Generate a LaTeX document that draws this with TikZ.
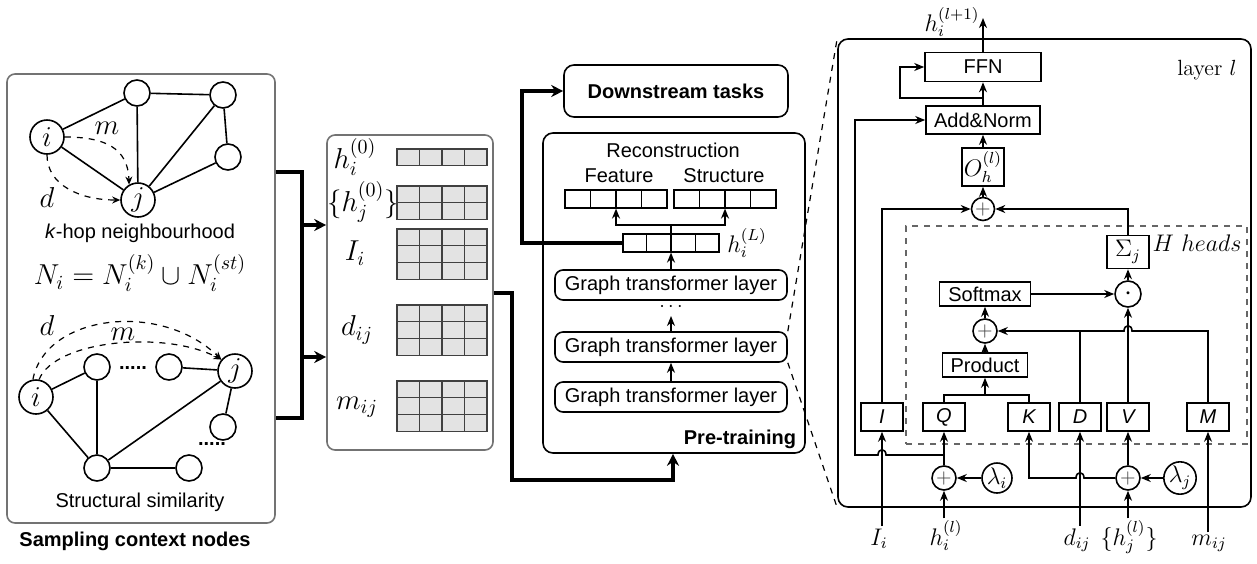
\documentclass[tikz,border=0pt]{standalone}
\usepackage{fontspec}
\setsansfont{Liberation Sans}
\usetikzlibrary{arrows.meta, positioning, calc}
\colorlet{PanelLine}{black!55}
\colorlet{CellFill}{black!11}
\colorlet{HeadLine}{black!60}

\begin{document}
\begin{tikzpicture}[
    x=0.5pt, y=-0.5pt,
    every node/.style={inner sep=1pt},
    txt/.style={font=\sffamily},
    bigmath/.style={font=\fontsize{14}{16}\selectfont},
    midmath/.style={font=\fontsize{12}{14}\selectfont},
    panel/.style={draw=PanelLine, rounded corners=4pt, thick},
    gnode/.style={circle, draw, thick, minimum size=13pt, inner sep=0pt},
    gmain/.style={gnode, minimum size=17pt, font=\fontsize{14}{16}\selectfont},
    gtl/.style={draw, rounded corners=4pt, thick, minimum width=116pt,
                minimum height=15pt, font=\sffamily},
    vect/.style={draw, semithick, minimum width=#1, minimum height=9pt},
    opbox/.style={draw, thick, font=\sffamily, minimum height=#1, inner sep=2pt},
    opbox/.default=12pt,
    inbox/.style={draw, thick, font=\sffamily\itshape, minimum width=21pt,
                  minimum height=14pt},
    opcirc/.style={circle, draw, thick, minimum size=#1, inner sep=0pt,
                   text=black!75},
    opcirc/.default=11.5pt,
    wire/.style={thick},
    arr/.style={-{Stealth[length=5pt, width=4pt]}, thick},
    dasharr/.style={-{Stealth[length=4pt, width=3.5pt]}, semithick, dashed},
    bigline/.style={line width=2pt},
    bigarr/.style={-{Stealth[length=6pt, width=6pt]}, line width=2pt},
    cell/.style={draw=black!75, fill=CellFill, semithick}
]
\useasboundingbox (0,0) rectangle (1257,563);

% Sampling context nodes
\node[panel, minimum width=134pt, minimum height=224.5pt] (samp) at (141,298.5) {};
\node[font=\sffamily\bfseries] (samptitle) at (135,541) {Sampling context nodes};

\node[gmain] (ki) at (47,137) {$i$};
\node[gnode] (ka) at (137,93) {};
\node[gnode] (kb) at (223,95) {};
\node[gnode] (kc) at (228,157) {};
\node[gmain] (kj) at (138,200) {$j$};
\foreach \a/\b in {ki/ka, ki/kj, ka/kb, ka/kj, kb/kj, kb/kc, kc/kj} {
    \draw[wire] (\a) -- (\b);
}
\draw[dasharr] (ki.east) .. controls (105,137) and (128,148) .. (kj.120);
\draw[dasharr] (ki.south) .. controls (47,185) and (80,200) .. (kj.west);
\node[bigmath] (km) at (107,128) {$m$};
\node[bigmath] (kd) at (47,197) {$d$};
\node[txt] (khop) at (140,233) {\textit{k}-hop neighbourhood};
\node[bigmath] (nset) at (140,273) {$N_i = N_i^{(k)} \cup N_i^{(st)}$};

\node[gmain] (si) at (36,397) {$i$};
\node[gnode] (sa) at (97,367) {};
\node[gnode] (sb) at (169,367) {};
\node[gmain] (sj) at (235,371) {$j$};
\node[gnode] (sc) at (223,427) {};
\node[gnode] (sd) at (97,468) {};
\node[gnode] (se) at (189,468) {};
\foreach \a/\b in {si/sa, si/sd, sa/sd, sb/sj, sj/sd, sj/sc, sd/se} {
    \draw[wire] (\a) -- (\b);
}
\node[font=\sffamily\bfseries] (sdotsa) at (133,368) {.....};
\node[font=\sffamily\bfseries] (sdotsb) at (212,444) {.....};
\draw[dasharr] (si.100) .. controls (45,315) and (160,300) .. (sj.140);
\draw[dasharr] (si.80) .. controls (55,340) and (165,330) .. (sj.140);
\node[bigmath] (sdl) at (47,325) {$d$};
\node[bigmath] (sml) at (123,334) {$m$};
\node[txt] (ssim) at (140,502) {Structural similarity};

% Feature matrices
\node[panel, minimum width=83pt, minimum height=157.5pt] (mat) at (410,292.5) {};
\node[bigmath] (mh) at (355,157) {$h_i^{(0)}$};
\node[bigmath] (mhj) at (363,202) {$\{h_j^{(0)}\}$};
\node[bigmath] (mi) at (355,253) {$I_i$};
\node[bigmath] (md) at (357,330) {$d_{ij}$};
\node[bigmath] (mm) at (357,407) {$m_{ij}$};
\foreach \t/\r in {149/1, 186/2, 229/3, 305/3, 381/3} {
    \foreach \c in {0,...,3} {
        \foreach \k in {1,...,\r} {
            \draw[cell] ({397+22.5*\c},{\t+16.7*(\k-1)}) rectangle ++(22.5,16.7);
        }
    }
}

% Pre-training
\node[draw, thick, rounded corners=5pt, minimum width=131pt, minimum height=160pt] (pre) at (674,293) {};
\node[font=\sffamily\bfseries] (pretitle) at (740,439) {Pre-training};
\node[draw, thick, rounded corners=5pt, minimum width=112pt, minimum height=26pt,
      font=\sffamily\bfseries] (down) at (676,91) {Downstream tasks};
\node[txt] (recon) at (673,150) {Reconstruction};
\node[txt] (featlbl) at (619,176) {Feature};
\node[txt] (struclbl) at (724,176) {Structure};
\node[vect=51pt] (feat) at (616,199) {};
\node[vect=51pt] (struc) at (725,199) {};
\node[vect=48pt] (hl) at (671,243) {};
\node[midmath] (hllbl) at (747,243) {$h_i^{(L)}$};
\foreach \v in {feat, struc, hl} {
    \foreach \f in {0.25, 0.5, 0.75} {
        \draw[semithick] ($(\v.north west)!\f!(\v.north east)$) -- ($(\v.south west)!\f!(\v.south east)$);
    }
}
\node[gtl] (gtla) at (671,285) {Graph transformer layer};
\node[gtl] (gtlb) at (671,347) {Graph transformer layer};
\node[gtl] (gtlc) at (671,397) {Graph transformer layer};
\node (gdots) at (671,307) {$\cdots$};
\coordinate (dotend) at (671,316);
\coordinate (brc) at (671,225);
\coordinate (upc) at (522,243);

% Layer l
\node[draw, thick, rounded corners=5pt, minimum width=206.5pt, minimum height=234pt] (layer) at (1044.5,273) {};
\node[font=\fontsize{11}{13}\selectfont] (layerlbl) at (1207,70) {layer $l$};
\node[draw=HeadLine, dashed, semithick, minimum width=170.5pt, minimum height=109pt] (heads) at (1076.5,335) {};
\node[font=\fontsize{11.5}{13}\selectfont] (headlbl) at (1197,243) {$H\ heads$};

\node[opbox=14.5pt, minimum width=58pt] (ffn) at (983,67) {FFN};
\node[opbox=14pt, minimum width=57pt] (addn) at (983,120) {Add\&Norm};
\node[opbox=19pt, minimum width=21pt, inner sep=1pt, font=\fontsize{12}{14}\selectfont] (oh) at (983,167) {$O_h^{(l)}$};
\node[opcirc] (plo) at (983,209) {$+$};
\node[opbox=16.5pt, minimum width=21pt, font=\fontsize{12}{14}\selectfont] (sig) at (1128,252) {$\Sigma_j$};
\node[opcirc=13pt, text=black] (dotp) at (1128,294) {\Large$\cdot$};
\node[opbox, minimum width=45.5pt] (soft) at (985,294) {Softmax};
\node[opcirc=12pt] (pla) at (985,331) {$+$};
\node[opbox, minimum width=42.5pt] (prod) at (985,365) {Product};
\node[inbox] (bi) at (882,417) {I};
\node[inbox] (bq) at (944,417) {Q};
\node[inbox] (bk) at (1029,417) {K};
\node[inbox] (bd) at (1080,417) {D};
\node[inbox] (bv) at (1128,417) {V};
\node[inbox] (bm) at (1208,417) {M};
\node[opcirc=12pt] (pli) at (944,478) {$+$};
\node[opcirc=15pt, text=black, font=\fontsize{12}{14}\selectfont] (lami) at (997,478) {$\lambda_i$};
\node[opcirc=12pt] (plj) at (1128,478) {$+$};
\node[opcirc=15pt, text=black, font=\fontsize{12}{14}\selectfont] (lamj) at (1180,478) {$\lambda_j$};

\node[midmath, anchor=base] (ini) at (879,545) {$I_i$};
\node[midmath, anchor=base] (inh) at (946,545) {$h_i^{(l)}$};
\node[midmath, anchor=base] (ind) at (1077,545) {$d_{ij}$};
\node[midmath, anchor=base] (inhj) at (1129,545) {$\{h_j^{(l)}\}$};
\node[midmath, anchor=base] (inm) at (1209,545) {$m_{ij}$};
\coordinate (hout) at (983,18);
\node[midmath] (houtlbl) at (952,22) {$h_i^{(l+1)}$};
\coordinate (ffnres) at (983,98);
\coordinate (qk) at (985,395);
\coordinate (qjoin) at (944,455);

% Thick connectors
\coordinate (forkT) at (302,172);
\coordinate (forkB) at (302,418);
\coordinate (forkA) at (302,225);
\coordinate (forkC) at (302,357);
\draw[bigline] (samp.east |- forkT) -- (forkT) -- (forkB) -- (samp.east |- forkB);
\foreach \p in {forkA, forkC} {
    \draw[bigarr] (\p) -- (\p -| mat.west);
}
\coordinate (matA) at (512,293);
\coordinate (matB) at (512,480);
\coordinate (matC) at (673,480);
\draw[bigarr] (mat.east |- matA) -- (matA) -- (matB) -- (matC) -- (matC |- pre.south);
\draw[bigarr] (hl.west) -- (upc) |- (down.west);

% Pre-training arrows
\draw[arr] (gtla.north) -- (hl.south);
\draw[arr] (gtlb.north) -- (dotend);
\draw[arr] (gtlc) -- (gtlb);
\draw[wire] (hl.north) -- (brc);
\draw[arr] (brc) -| (feat.south);
\draw[arr] (brc) -| (struc.south);
\draw[dashed, semithick] (gtlb.north east) -- (layer.north west);
\draw[dashed, semithick] (gtlb.south east) -- (layer.south west);

% Layer arrows
\draw[arr] (ffn.north) -- (hout);
\draw[arr] (addn) -- (ffn);
\draw[arr] (ffnres) -| ([xshift=-12pt]ffn.west) -- (ffn.west);
\draw[arr] (oh) -- (addn);
\draw[arr] (plo) -- (oh);
\draw[arr] (bi.north) |- (plo.west);
\draw[arr] (sig.north) |- (plo.east);
\draw[arr] (dotp) -- (sig);
\draw[arr] (soft) -- (dotp);
\draw[arr] (pla) -- (soft);
\draw[arr] (prod) -- (pla);
\draw[wire] (bq.north) |- (qk) -| (bk.north);
\draw[arr] (qk) -- (prod.south);
\draw[arr] (bd.north) |- (pla.east);
\draw[wire] (bm.north) |- (1132,331) .. controls (1132,324) and (1124,324) .. (1124,331) -- (bd.north |- pla.east);
\draw[arr] (bv) -- (dotp);
\draw[arr] (pli) -- (bq);
\draw[arr] (lami) -- (pli);
\draw[arr] (plj) -- (bv);
\draw[arr] (lamj) -- (plj);
\draw[arr] (plj.west) -- (1084,478) .. controls (1084,471) and (1076,471) .. (1076,478) -| (bk.south);
\draw[arr] (qjoin) -- (886,455) .. controls (886,448) and (878,448) .. (878,455) -- (855,455) |- (addn.west);
\foreach \a/\b in {ini/bi, inh/pli, ind/bd, inhj/plj, inm/bm} {
    \draw[arr] (\b.south |- \a.north) -- (\b.south);
}

\end{tikzpicture}
\end{document}
